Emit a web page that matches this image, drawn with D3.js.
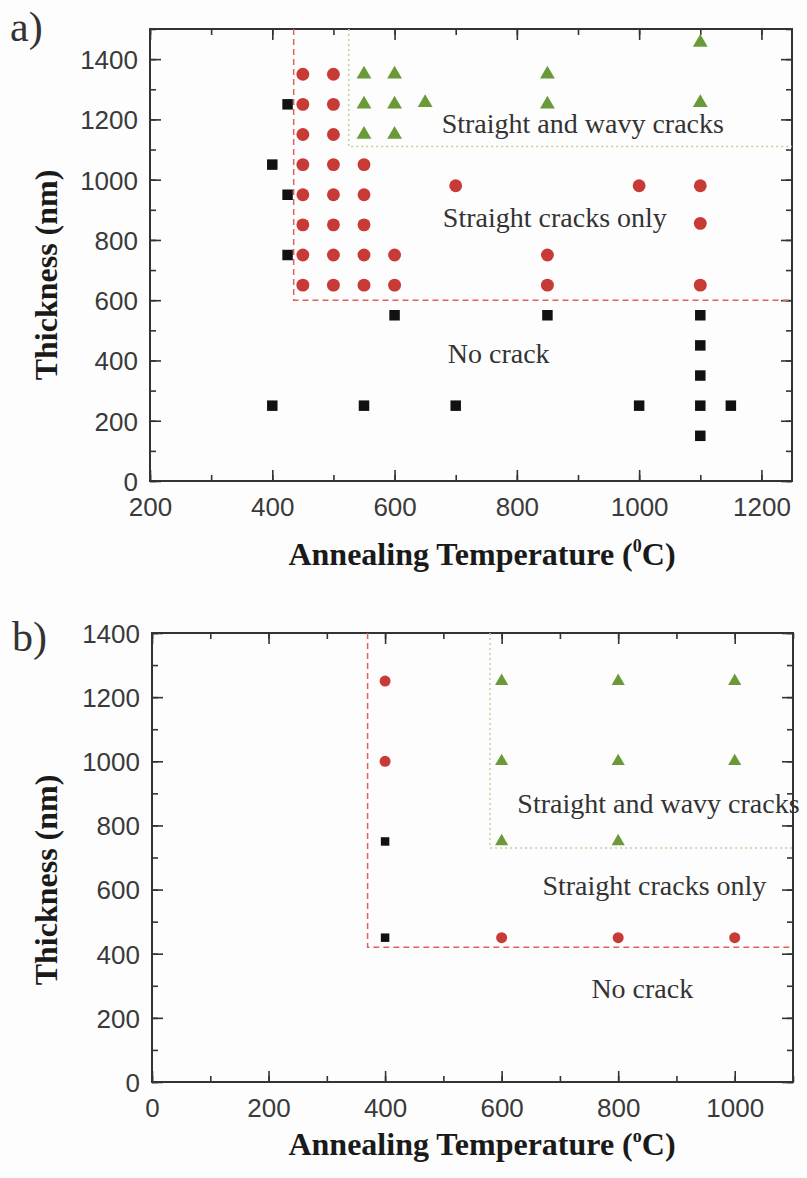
<!DOCTYPE html>
<html>
<head>
<meta charset="utf-8">
<script src="https://cdn.jsdelivr.net/npm/d3@7"></script>
<style>
  body { margin: 0; background: #fdfdfd; }
  .tick text { font-family: "Liberation Sans", Arial, sans-serif; font-size: 26px; fill: #3a3a3a; }
  .tick line { stroke: #333; stroke-width: 1.6; }
  .domain { display: none; }
  .note { font-family: "Liberation Serif", "Times New Roman", serif; font-size: 28px; fill: #333; }
  .title { font-family: "Liberation Serif", "Times New Roman", serif; font-size: 32px; font-weight: bold; fill: #1a1a1a; }
  .panel { font-family: "Liberation Serif", "Times New Roman", serif; font-size: 42px; fill: #333; }
</style>
</head>
<body>
<svg id="chart"></svg>
<script>
// panel a data (temperature C, thickness nm)
var aNoCrack = [[425, 1250], [400, 1050], [425, 950], [425, 750], [600, 550], [850, 550],
    [1100, 550], [1100, 450], [1100, 350], [1100, 250], [1100, 150],
    [400, 250], [550, 250], [700, 250], [1000, 250], [1150, 250]];
var aStraight = [[450, 1350], [450, 1250], [450, 1150], [450, 1050], [450, 950], [450, 850], [450, 750], [450, 650],
    [500, 1350], [500, 1250], [500, 1150], [500, 1050], [500, 950], [500, 850], [500, 750], [500, 650],
    [550, 1050], [550, 950], [550, 850], [550, 750], [550, 650],
    [600, 750], [600, 650], [700, 980], [850, 750], [850, 650],
    [1000, 980], [1100, 980], [1100, 855], [1100, 650]];
var aWavy = [[550, 1350], [550, 1250], [550, 1150], [600, 1350], [600, 1250], [600, 1150],
    [650, 1255], [850, 1350], [850, 1250], [1100, 1455], [1100, 1255]];
// boundaries [temperature, thickness]
var aRedLine = [435, 600];
var aGreenLine = [525, 1110];
var aXTicks = [200, 400, 600, 800, 1000, 1200];
var aYTicks = [0, 200, 400, 600, 800, 1000, 1200, 1400];

// panel b data
var bNoCrack = [[400, 750], [400, 450]];
var bStraight = [[400, 1250], [400, 1000], [600, 450], [800, 450], [1000, 450]];
var bWavy = [[600, 1250], [800, 1250], [1000, 1250], [600, 1000], [800, 1000], [1000, 1000], [600, 750], [800, 750]];
var bRedLine = [370, 420];
var bGreenLine = [580, 730];
var bXTicks = [0, 200, 400, 600, 800, 1000];
var bYTicks = [0, 200, 400, 600, 800, 1000, 1200, 1400];

var svg = d3.select("#chart")
    .attr("width", 807)
    .attr("height", 1178);

var red = "#c83a36";
var green = "#6a9a38";
var black = "#111";

function drawPanel(opt) {
    var g = svg.append("g")
        .attr("transform", `translate(${opt.left}, ${opt.top})`);
    var w = opt.width, h = opt.height;

    var x = d3.scaleLinear().domain(opt.xDomain).range([0, w]);
    var y = d3.scaleLinear().domain(opt.yDomain).range([h, 0]);

    var xMinor = d3.range(opt.xDomain[0], opt.xDomain[1] + 1, 100);
    var yMinor = d3.range(opt.yDomain[0], opt.yDomain[1] + 1, 100);

    //minor ticks on all four sides (inward)
    g.append("g").attr("transform", `translate(0, ${h})`)
        .call(d3.axisBottom(x).tickValues(xMinor).tickSize(-6).tickFormat(""));
    g.append("g")
        .call(d3.axisTop(x).tickValues(xMinor).tickSize(-6).tickFormat(""));
    g.append("g")
        .call(d3.axisLeft(y).tickValues(yMinor).tickSize(-6).tickFormat(""));
    g.append("g").attr("transform", `translate(${w}, 0)`)
        .call(d3.axisRight(y).tickValues(yMinor).tickSize(-6).tickFormat(""));

    //major ticks with labels
    var xAxis = g.append("g").attr("transform", `translate(0, ${h})`)
        .call(d3.axisBottom(x).tickValues(opt.xTicks).tickSize(-11).tickPadding(0).tickFormat(d3.format("d")));
    xAxis.selectAll("text").attr("y", 35).attr("dy", null);
    g.append("g")
        .call(d3.axisTop(x).tickValues(opt.xTicks).tickSize(-11).tickFormat(""));
    var yAxis = g.append("g")
        .call(d3.axisLeft(y).tickValues(opt.yTicks).tickSize(-11).tickFormat(d3.format("d")));
    yAxis.selectAll("text").attr("x", -12).attr("dy", "0.36em");
    g.append("g").attr("transform", `translate(${w}, 0)`)
        .call(d3.axisRight(y).tickValues(opt.yTicks).tickSize(-11).tickFormat(""));

    //frame
    g.append("rect")
        .attr("width", w)
        .attr("height", h)
        .attr("fill", "none")
        .attr("stroke", "#333")
        .attr("stroke-width", 2);

    //boundaries
    g.append("path")
        .attr("d", `M${x(opt.redLine[0])},0 V${y(opt.redLine[1])} H${w}`)
        .attr("fill", "none")
        .attr("stroke", "#e0605a")
        .attr("stroke-width", 1.5)
        .attr("stroke-dasharray", "6,4");
    g.append("path")
        .attr("d", `M${x(opt.greenLine[0])},0 V${y(opt.greenLine[1])} H${w}`)
        .attr("fill", "none")
        .attr("stroke", "#c2cf95")
        .attr("stroke-width", 1.5)
        .attr("stroke-dasharray", "2,3");

    //markers
    var sets = [
        { data: opt.noCrack, type: d3.symbolSquare, size: opt.sq, color: black },
        { data: opt.straight, type: d3.symbolCircle, size: opt.ci, color: red },
        { data: opt.wavy, type: d3.symbolTriangle, size: opt.tr, color: green }
    ];
    sets.forEach(function(s) {
        g.selectAll(null)
            .data(s.data)
            .enter()
            .append("path")
            .attr("transform", d => `translate(${x(d[0])}, ${y(d[1])})`)
            .attr("d", d3.symbol().type(s.type).size(s.size))
            .attr("fill", s.color);
    });

    //region notes
    opt.notes.forEach(function(n) {
        g.append("text")
            .classed("note", true)
            .attr("x", x(n.t))
            .attr("y", y(n.h))
            .text(n.text);
    });

    //axis titles
    var xt = g.append("text")
        .classed("title", true)
        .attr("text-anchor", "middle")
        .attr("x", opt.xTitleX)
        .attr("y", h + opt.xTitleDy);
    xt.append("tspan").text("Annealing Temperature (");
    xt.append("tspan").attr("font-size", "18px").attr("dy", -13).text(opt.degree);
    xt.append("tspan").attr("dy", 13).text("C)");

    g.append("text")
        .classed("title", true)
        .attr("text-anchor", "middle")
        .attr("transform", `translate(${57 - opt.left}, ${opt.yTitleY}) rotate(-90)`)
        .text("Thickness (nm)");

    svg.append("text")
        .classed("panel", true)
        .attr("x", opt.labelX)
        .attr("y", opt.labelY)
        .text(opt.label);
}

drawPanel({
    left: 150, top: 29, width: 642, height: 452,
    xDomain: [200, 1250], yDomain: [0, 1500],
    xTicks: aXTicks, yTicks: aYTicks,
    noCrack: aNoCrack, straight: aStraight, wavy: aWavy,
    redLine: aRedLine, greenLine: aGreenLine,
    sq: 110, ci: 130, tr: 95,
    notes: [
        { t: 677, h: 1155, text: "Straight and wavy cracks" },
        { t: 679, h: 843, text: "Straight cracks only" },
        { t: 687, h: 391, text: "No crack" }
    ],
    degree: "0", xTitleX: 332, xTitleDy: 84, yTitleY: 246,
    label: "a)", labelX: 10, labelY: 41
});

drawPanel({
    left: 152, top: 633, width: 641, height: 449,
    xDomain: [0, 1100], yDomain: [0, 1400],
    xTicks: bXTicks, yTicks: bYTicks,
    noCrack: bNoCrack, straight: bStraight, wavy: bWavy,
    redLine: bRedLine, greenLine: bGreenLine,
    sq: 72, ci: 95, tr: 75,
    notes: [
        { t: 627, h: 839, text: "Straight and wavy cracks" },
        { t: 670, h: 583, text: "Straight cracks only" },
        { t: 754, h: 262, text: "No crack" }
    ],
    degree: "o", xTitleX: 330, xTitleDy: 73, yTitleY: 247,
    label: "b)", labelX: 12, labelY: 651
});
</script>
</body>
</html>
